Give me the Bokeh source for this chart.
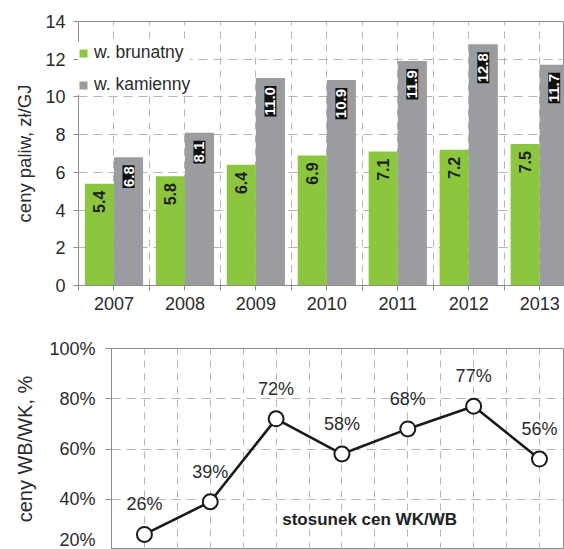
import math
from bokeh.plotting import figure
from bokeh.layouts import column
from bokeh.models import (Range1d, FixedTicker, Legend, LegendItem, Label,
                          ColumnDataSource, PrintfTickFormatter)
from bokeh.core.properties import value
from bokeh.embed import file_html
from bokeh.resources import INLINE

years = ["2007", "2008", "2009", "2010", "2011", "2012", "2013"]
brunatny = [5.4, 5.8, 6.4, 6.9, 7.1, 7.2, 7.5]
kamienny = [6.8, 8.1, 11.0, 10.9, 11.9, 12.8, 11.7]
stosunek = [26, 39, 72, 58, 68, 77, 56]
y_ticks_top = [0, 2, 4, 6, 8, 10, 12, 14]
y_ticks_bottom = [20, 40, 60, 80, 100]

GREEN = "#8cc63f"
GRAY = "#9b9c9f"
AXIS = "#8c8c8c"
GRID = "#b5b5b5"
TXT = "#2b2b2b"
FONT = "Liberation Sans"

n = len(years)
centers = [i + 0.5 for i in range(n)]
half_ticks = [i * 0.5 for i in range(2 * n + 1)]
bw = 0.41


def no_align(fig):
    try:
        fig.frame_align = False
    except Exception:
        pass


def style_frame(fig):
    fig.outline_line_color = AXIS
    fig.background_fill_alpha = 0
    fig.border_fill_alpha = 0


# ---------------- top chart ----------------
p = figure(width=564, height=328, output_backend="svg", toolbar_location=None,
           x_range=Range1d(0, 6.85), y_range=Range1d(0, 14),
           min_border_left=78, min_border_right=0, min_border_top=21,
           min_border_bottom=43)
no_align(p)
style_frame(p)

src = ColumnDataSource(dict(
    xg=[c - bw / 2 for c in centers], xk=[c + bw / 2 for c in centers],
    b=brunatny, k=kamienny,
    bl=[f"{v:.1f}" for v in brunatny], kl=[f"{v:.1f}" for v in kamienny]))

rb = p.vbar(x="xg", top="b", width=bw, source=src, fill_color=GREEN, line_color=None)
rk = p.vbar(x="xk", top="k", width=bw, source=src, fill_color=GRAY, line_color=None)

p.text(x="xg", y="b", text="bl", source=src, angle=math.pi / 2, y_offset=7,
       text_align="right", text_baseline="middle", text_color="#1e1e1e",
       text_font_size="16px", text_font_style="bold", text_font=value(FONT))
p.text(x="xk", y="k", text="kl", source=src, angle=math.pi / 2, y_offset=8,
       text_align="right", text_baseline="middle", text_color="white",
       text_font_size="15px", text_font_style="bold", text_font=value(FONT),
       background_fill_color="#111111", padding=1)

p.xgrid.ticker = FixedTicker(ticks=half_ticks[1:])
p.xgrid.grid_line_color = GRID
p.xgrid.grid_line_width = 1
p.xgrid.grid_line_dash = "7 6"
p.ygrid.ticker = FixedTicker(ticks=y_ticks_top[1:-1])
p.ygrid.grid_line_color = GRID
p.ygrid.grid_line_width = 1
p.ygrid.grid_line_dash = "9 6"

p.xaxis.ticker = FixedTicker(ticks=centers, minor_ticks=half_ticks)
p.xaxis.major_label_overrides = {c: y for c, y in zip(centers, years)}
p.xaxis.major_tick_out = 0
p.xaxis.major_tick_in = 0
p.xaxis.minor_tick_out = 5
p.xaxis.minor_tick_in = 0
p.xaxis.minor_tick_line_color = AXIS
p.xaxis.major_label_standoff = 6
p.xaxis.axis_line_color = AXIS

p.yaxis.ticker = FixedTicker(ticks=y_ticks_top)
p.yaxis.minor_tick_line_color = None
p.yaxis.major_tick_out = 5
p.yaxis.major_tick_in = 0
p.yaxis.major_tick_line_color = AXIS
p.yaxis.axis_line_color = AXIS
p.yaxis.major_label_standoff = 8
p.yaxis.axis_label = "ceny paliw, zł/GJ"
p.yaxis.axis_label_standoff = 7
p.yaxis.axis_label_text_font_style = "normal"

for ax in (p.xaxis, p.yaxis):
    ax.major_label_text_font = FONT
    ax.major_label_text_font_size = "18px"
    ax.major_label_text_color = TXT
    ax.axis_label_text_font = FONT
    ax.axis_label_text_font_size = "18.5px"
    ax.axis_label_text_color = TXT

legend = Legend(items=[LegendItem(label="w. brunatny", renderers=[rb]),
                       LegendItem(label="w. kamienny", renderers=[rk])],
                location=(0, 190), padding=0, margin=0, spacing=11,
                glyph_width=10, glyph_height=10, label_height=18,
                label_standoff=6, border_line_color=None,
                background_fill_color="white", background_fill_alpha=1,
                label_text_font=FONT, label_text_font_size="17.5px",
                label_text_color=TXT)
p.add_layout(legend, "center")

# ---------------- bottom chart ----------------
q = figure(width=564, height=221, output_backend="svg", toolbar_location=None,
           x_range=Range1d(0, 6.88), y_range=Range1d(20, 100),
           min_border_left=111, min_border_right=0, min_border_top=20,
           min_border_bottom=0)
no_align(q)
style_frame(q)
q.xaxis.visible = False
q.xgrid.ticker = FixedTicker(ticks=half_ticks[1:])
q.xgrid.grid_line_color = GRID
q.xgrid.grid_line_width = 1
q.xgrid.grid_line_dash = "7 6"
q.ygrid.ticker = FixedTicker(ticks=y_ticks_bottom[1:-1])
q.ygrid.grid_line_color = GRID
q.ygrid.grid_line_width = 1
q.ygrid.grid_line_dash = "9 6"

lsrc = ColumnDataSource(dict(x=centers, y=stosunek,
                             lab=[f"{v}%" for v in stosunek]))
q.line(x="x", y="y", source=lsrc, line_color="#1a1a1a", line_width=2.6)
q.scatter(x="x", y="y", source=lsrc, size=15, fill_color="white",
          line_color="#1a1a1a", line_width=2)
q.text(x="x", y="y", text="lab", source=lsrc, y_offset=-30,
       text_align="center", text_baseline="middle", text_color=TXT,
       text_font_size="18px", text_font=value(FONT))

q.yaxis.ticker = FixedTicker(ticks=y_ticks_bottom)
q.yaxis.formatter = PrintfTickFormatter(format="%d%%")
q.yaxis.minor_tick_line_color = None
q.yaxis.major_tick_out = 6
q.yaxis.major_tick_in = 0
q.yaxis.major_tick_line_color = AXIS
q.yaxis.axis_line_color = AXIS
q.yaxis.major_label_standoff = 10
q.yaxis.major_label_text_font = FONT
q.yaxis.major_label_text_font_size = "18px"
q.yaxis.major_label_text_color = TXT
q.yaxis.axis_label = "ceny WB/WK, %"
q.yaxis.axis_label_standoff = 10
q.yaxis.axis_label_text_font = FONT
q.yaxis.axis_label_text_font_size = "20px"
q.yaxis.axis_label_text_font_style = "normal"
q.yaxis.axis_label_text_color = TXT

q.add_layout(Label(x=3.92, y=32, text="stosunek cen WK/WB", text_align="center",
                   text_baseline="middle", text_font=FONT, text_font_size="17px",
                   text_font_style="bold", text_color="#222222"))

layout = column(p, q, spacing=0)
open("out.html", "w").write(file_html(layout, INLINE))
